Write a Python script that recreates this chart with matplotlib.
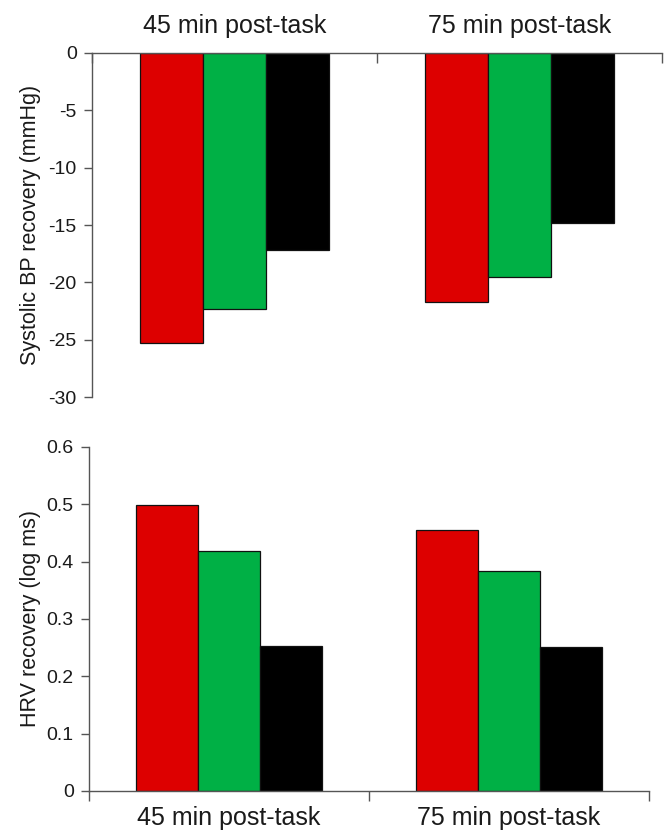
import matplotlib
matplotlib.use("Agg")
import matplotlib.pyplot as plt
import numpy as np

plt.rcParams['font.family'] = ['Liberation Sans', 'DejaVu Sans']

# ----------------------------
# Data
# ----------------------------
categories = ["45 min post-task", "75 min post-task"]
bar_colors = ["#DD0000", "#00B045", "#000000"]

sbp_red = [-25.3, -21.7]
sbp_green = [-22.3, -19.5]
sbp_black = [-17.2, -14.8]

hrv_red = [0.499, 0.455]
hrv_green = [0.419, 0.384]
hrv_black = [0.253, 0.251]

sbp_ticks = [0, -5, -10, -15, -20, -25, -30]
hrv_ticks = [0, 0.1, 0.2, 0.3, 0.4, 0.5, 0.6]

# ----------------------------
# Figure
# ----------------------------
fig = plt.figure(figsize=(6.66, 8.32), dpi=100)
ax1 = fig.add_axes([0.138, 0.5228, 0.856, 0.4135])
ax2 = fig.add_axes([0.1336, 0.0493, 0.841, 0.4135])

x = np.arange(len(categories))
w = 0.222
spine_col = "#555555"
text_col = "#1a1a1a"


def draw_bars(ax, series):
    for i, (vals, col) in enumerate(zip(series, bar_colors)):
        ax.bar(x + (i - 1) * w, vals, width=w, color=col,
               edgecolor="#111111", linewidth=0.9, zorder=2)
    ax.set_xlim(-0.5, 1.5)
    ax.set_xticks(x)
    ax.set_xticklabels(categories, fontsize=18, color=text_col)
    ax.set_xticks([-0.5, 0.5, 1.5], minor=True)
    ax.tick_params(axis="x", which="major", length=0, pad=11)
    ax.tick_params(axis="y", length=6, width=1, color=spine_col,
                   labelsize=14, labelcolor=text_col, pad=5)
    for s in ax.spines.values():
        s.set_color(spine_col)
        s.set_linewidth(1)
    ax.spines["right"].set_visible(False)


# Top panel: systolic BP
draw_bars(ax1, [sbp_red, sbp_green, sbp_black])
ax1.set_ylim(-30, 0)
ax1.set_yticks(sbp_ticks)
ax1.set_yticklabels([str(t) for t in sbp_ticks])
ax1.xaxis.tick_top()
ax1.tick_params(axis="x", which="minor", direction="in", length=7,
                width=1, color=spine_col, top=True, bottom=False)
ax1.spines["bottom"].set_visible(False)
ax1.set_ylabel("Systolic BP recovery (mmHg)", fontsize=15.5, color=text_col)
ax1.yaxis.set_label_coords(-0.09, 0.5)

# Bottom panel: HRV
draw_bars(ax2, [hrv_red, hrv_green, hrv_black])
ax2.set_ylim(0, 0.6)
ax2.set_yticks(hrv_ticks)
ax2.set_yticklabels(["0", "0.1", "0.2", "0.3", "0.4", "0.5", "0.6"])
ax2.tick_params(axis="x", which="minor", direction="out", length=7,
                width=1, color=spine_col)
ax2.spines["top"].set_visible(False)
ax2.set_ylabel("HRV recovery (log ms)", fontsize=15.5, color=text_col)
ax2.yaxis.set_label_coords(-0.086, 0.5)

plt.savefig("out.png", dpi=100)
